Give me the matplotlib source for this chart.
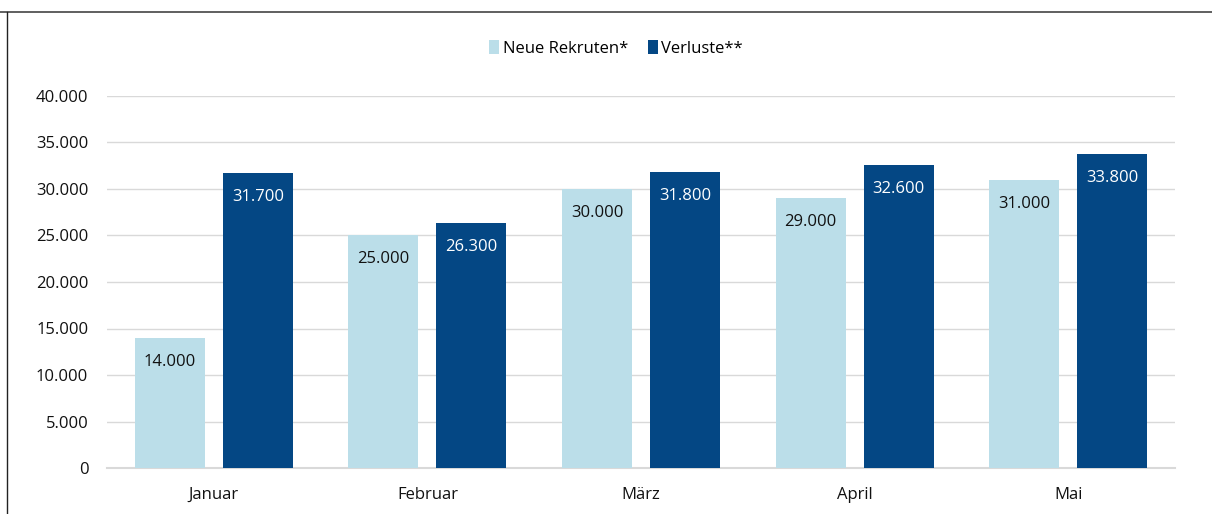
import matplotlib
matplotlib.use("Agg")
import matplotlib.pyplot as plt
import numpy as np
from matplotlib.lines import Line2D
from matplotlib.patches import Patch

categories = ["Januar", "Februar", "März", "April", "Mai"]
rekruten = [14000, 25000, 30000, 29000, 31000]
verluste = [31700, 26300, 31800, 32600, 33800]
yticks = [0, 5000, 10000, 15000, 20000, 25000, 30000, 35000, 40000]
series_names = ["Neue Rekruten*", "Verluste**"]

LIGHT = "#BBDEE9"
DARK = "#044784"
GRID = "#D9D9D9"

plt.rcParams["font.family"] = ["Open Sans", "DejaVu Sans"]

W, H = 1212, 514
fig = plt.figure(figsize=(W / 100, H / 100), dpi=100)

# axes placement in pixels
x0, x1 = 107, 1175
y0, y1 = 468, 96
ax = fig.add_axes([x0 / W, 1 - y0 / H, (x1 - x0) / W, (y0 - y1) / H])

fmt = lambda v: f"{v:,.0f}".replace(",", ".")
FS = 12

x = np.arange(len(categories))
bw = 0.328
gap = 0.084
off = (bw + gap) / 2
b1 = ax.bar(x - off, rekruten, bw, color=LIGHT, zorder=3)
b2 = ax.bar(x + off, verluste, bw, color=DARK, zorder=3)

for rect, v in zip(b1, rekruten):
    ax.annotate(fmt(v), (rect.get_x() + rect.get_width() / 2, v),
                xytext=(0, -24), textcoords="offset pixels",
                ha="center", va="center", fontsize=FS, color="#111111", zorder=4)
for rect, v in zip(b2, verluste):
    ax.annotate(fmt(v), (rect.get_x() + rect.get_width() / 2, v),
                xytext=(0, -24), textcoords="offset pixels",
                ha="center", va="center", fontsize=FS, color="white", zorder=4)

ax.set_xlim(-0.5, len(categories) - 0.5)
ax.set_ylim(0, 40000)
ax.set_yticks(yticks)
ax.set_yticklabels([fmt(v) for v in yticks])
ax.set_xticks(x)
ax.set_xticklabels(categories)
ax.tick_params(axis="both", length=0, labelsize=FS, colors="#111111")
ax.tick_params(axis="y", pad=13.5)
ax.tick_params(axis="x", pad=13.5)
ax.grid(axis="y", color=GRID, linewidth=1, zorder=0)
for s in ["top", "right", "left"]:
    ax.spines[s].set_visible(False)
ax.spines["bottom"].set_color(GRID)
ax.spines["bottom"].set_linewidth(1.5)

handles = [Patch(facecolor=LIGHT), Patch(facecolor=DARK)]
fig.legend(handles, series_names, loc="center", bbox_to_anchor=(616 / W, 1 - 48.5 / H),
           ncol=2, frameon=False, fontsize=FS, handlelength=0.6, handleheight=0.9,
           handletextpad=0.2, columnspacing=1.2)

# frame lines (top rule and left border)
fig.add_artist(Line2D([0, 1], [1 - 12 / H, 1 - 12 / H], transform=fig.transFigure,
                      color="#444444", linewidth=1.2))
fig.add_artist(Line2D([7 / W, 7 / W], [0, 1 - 12 / H], transform=fig.transFigure,
                      color="#222222", linewidth=1.0))

fig.savefig("out.png", dpi=100)
